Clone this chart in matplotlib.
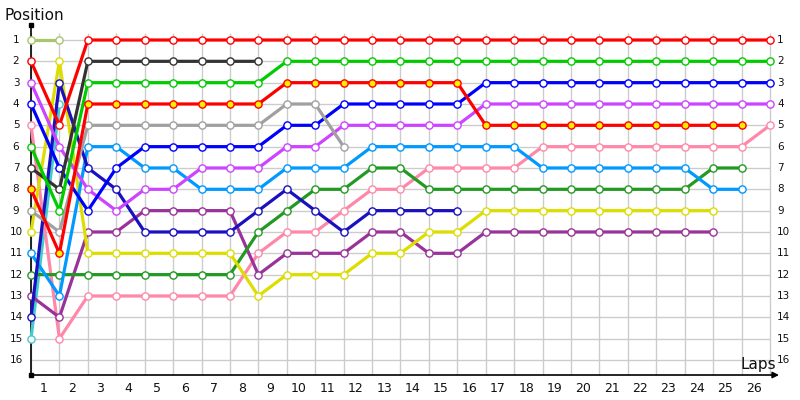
import matplotlib
matplotlib.use("Agg")
import matplotlib.pyplot as plt

# ---- data: position per lap (lap 0 = grid) ----
red        = [2, 5] + [1] * 25
olive      = [1, 1]
violet     = [3, 6, 8, 9, 8, 8, 7, 7, 7, 6, 6, 5, 5, 5, 5, 5] + [4] * 11
blue       = [4, 7, 9, 7, 6, 6, 6, 6, 6, 5, 5, 4, 4, 4, 4, 4] + [3] * 11
pink       = [5, 15, 13, 13, 13, 13, 13, 13, 11, 10, 10, 9, 8, 8, 7, 7, 7, 7, 6, 6, 6, 6, 6, 6, 6, 6, 5]
green      = [6, 9, 3, 3, 3, 3, 3, 3, 3] + [2] * 18
dark_gray  = [7, 8, 2, 2, 2, 2, 2, 2, 2]
red_yellow = [8, 11, 4, 4, 4, 4, 4, 4, 4, 3, 3, 3, 3, 3, 3, 3] + [5] * 10
gray       = [9, 10, 5, 5, 5, 5, 5, 5, 5, 4, 4, 6]
yellow     = [10, 2, 11, 11, 11, 11, 11, 11, 13, 12, 12, 12, 11, 11, 10, 10] + [9] * 9
light_blue = [11, 13, 6, 6, 7, 7, 8, 8, 8, 7, 7, 7, 6, 6, 6, 6, 6, 6, 7, 7, 7, 7, 7, 7, 8, 8]
forest     = [12, 12, 12, 12, 12, 12, 12, 12, 10, 9, 8, 8, 7, 7, 8, 8, 8, 8, 8, 8, 8, 8, 8, 8, 7, 7]
purple     = [13, 14, 10, 10, 9, 9, 9, 9, 12, 11, 11, 11, 10, 10, 11, 11] + [10] * 9
dark_blue  = [14, 3, 7, 8, 10, 10, 10, 10, 9, 8, 9, 10, 9, 9, 9, 9]
cyan       = [15, 4]

n_laps = 26
n_pos = 16
lap_labels = [str(i) for i in range(1, n_laps + 1)]
pos_labels = [str(i) for i in range(1, n_pos + 1)]

series = [
    (olive, "#a8c66c", "white"),
    (cyan, "#44cccc", "white"),
    (pink, "#ff88aa", "white"),
    (purple, "#993399", "white"),
    (forest, "#229922", "white"),
    (yellow, "#dddd00", "white"),
    (light_blue, "#0099ff", "white"),
    (dark_blue, "#1a10c0", "white"),
    (violet, "#cc44ff", "white"),
    (blue, "#0000ff", "white"),
    (gray, "#a0a0a0", "white"),
    (dark_gray, "#333333", "white"),
    (green, "#00cc00", "white"),
    (red_yellow, "#ff0000", "#ffee00"),
    (red, "#ff0000", "white"),
]

W, H = 800, 400
fig = plt.figure(figsize=(W / 100, H / 100), dpi=100)
ax = fig.add_axes([0, 0, 1, 1])
ax.axis("off")

X0, DX = 31.0, 28.42
Y0, DY = 40.0, 21.33
def px2x(px): return (px - X0) / DX
def py2y(py): return (py - Y0) / DY + 1

ax.set_xlim(px2x(0), px2x(W))
ax.set_ylim(py2y(H), py2y(0))

y_axis_bottom = py2y(375)
# grid
ax.vlines(range(0, n_laps + 1), py2y(33), y_axis_bottom, color="#cccccc", lw=1, zorder=1)
ax.hlines(range(1, n_pos + 1), 0, n_laps, color="#cccccc", lw=1, zorder=1)

# axes lines
ax.plot([0, 0], [py2y(25), y_axis_bottom], color="black", lw=1.2, zorder=2)
ax.plot([0], [py2y(25)], marker="s", color="black", ms=2.5, zorder=2)
ax.plot([0], [y_axis_bottom], marker="s", color="black", ms=2.5, zorder=2)
ax.annotate("", xy=(px2x(779), y_axis_bottom), xytext=(0, y_axis_bottom),
            arrowprops=dict(arrowstyle="-|>", color="black", lw=1.2,
                            mutation_scale=9, shrinkA=0, shrinkB=0), zorder=2)

# series
for z, (vals, col, fill) in enumerate(series):
    laps = list(range(len(vals)))
    ax.plot(laps, vals, color=col, lw=2.3, marker="o", ms=5.2,
            mfc=fill, mec=col, mew=1.0, zorder=3 + z, solid_joinstyle="round")

# labels
for i, t in enumerate(pos_labels):
    p = i + 1
    ax.text(px2x(16), p, t, ha="center", va="center", fontsize=7.5, color="#111111")
    ax.text(px2x(777), p, t, ha="left", va="center", fontsize=7.5, color="#111111")
for i, t in enumerate(lap_labels):
    k = i + 1
    ax.text(k - 0.57, py2y(388), t, ha="center", va="center", fontsize=9, color="#111111")

ax.text(px2x(4), py2y(15), "Position", ha="left", va="center", fontsize=11, color="#111111")
ax.text(px2x(758), py2y(365), "Laps", ha="center", va="center", fontsize=11, color="#111111")

fig.savefig("out.png", dpi=100)
